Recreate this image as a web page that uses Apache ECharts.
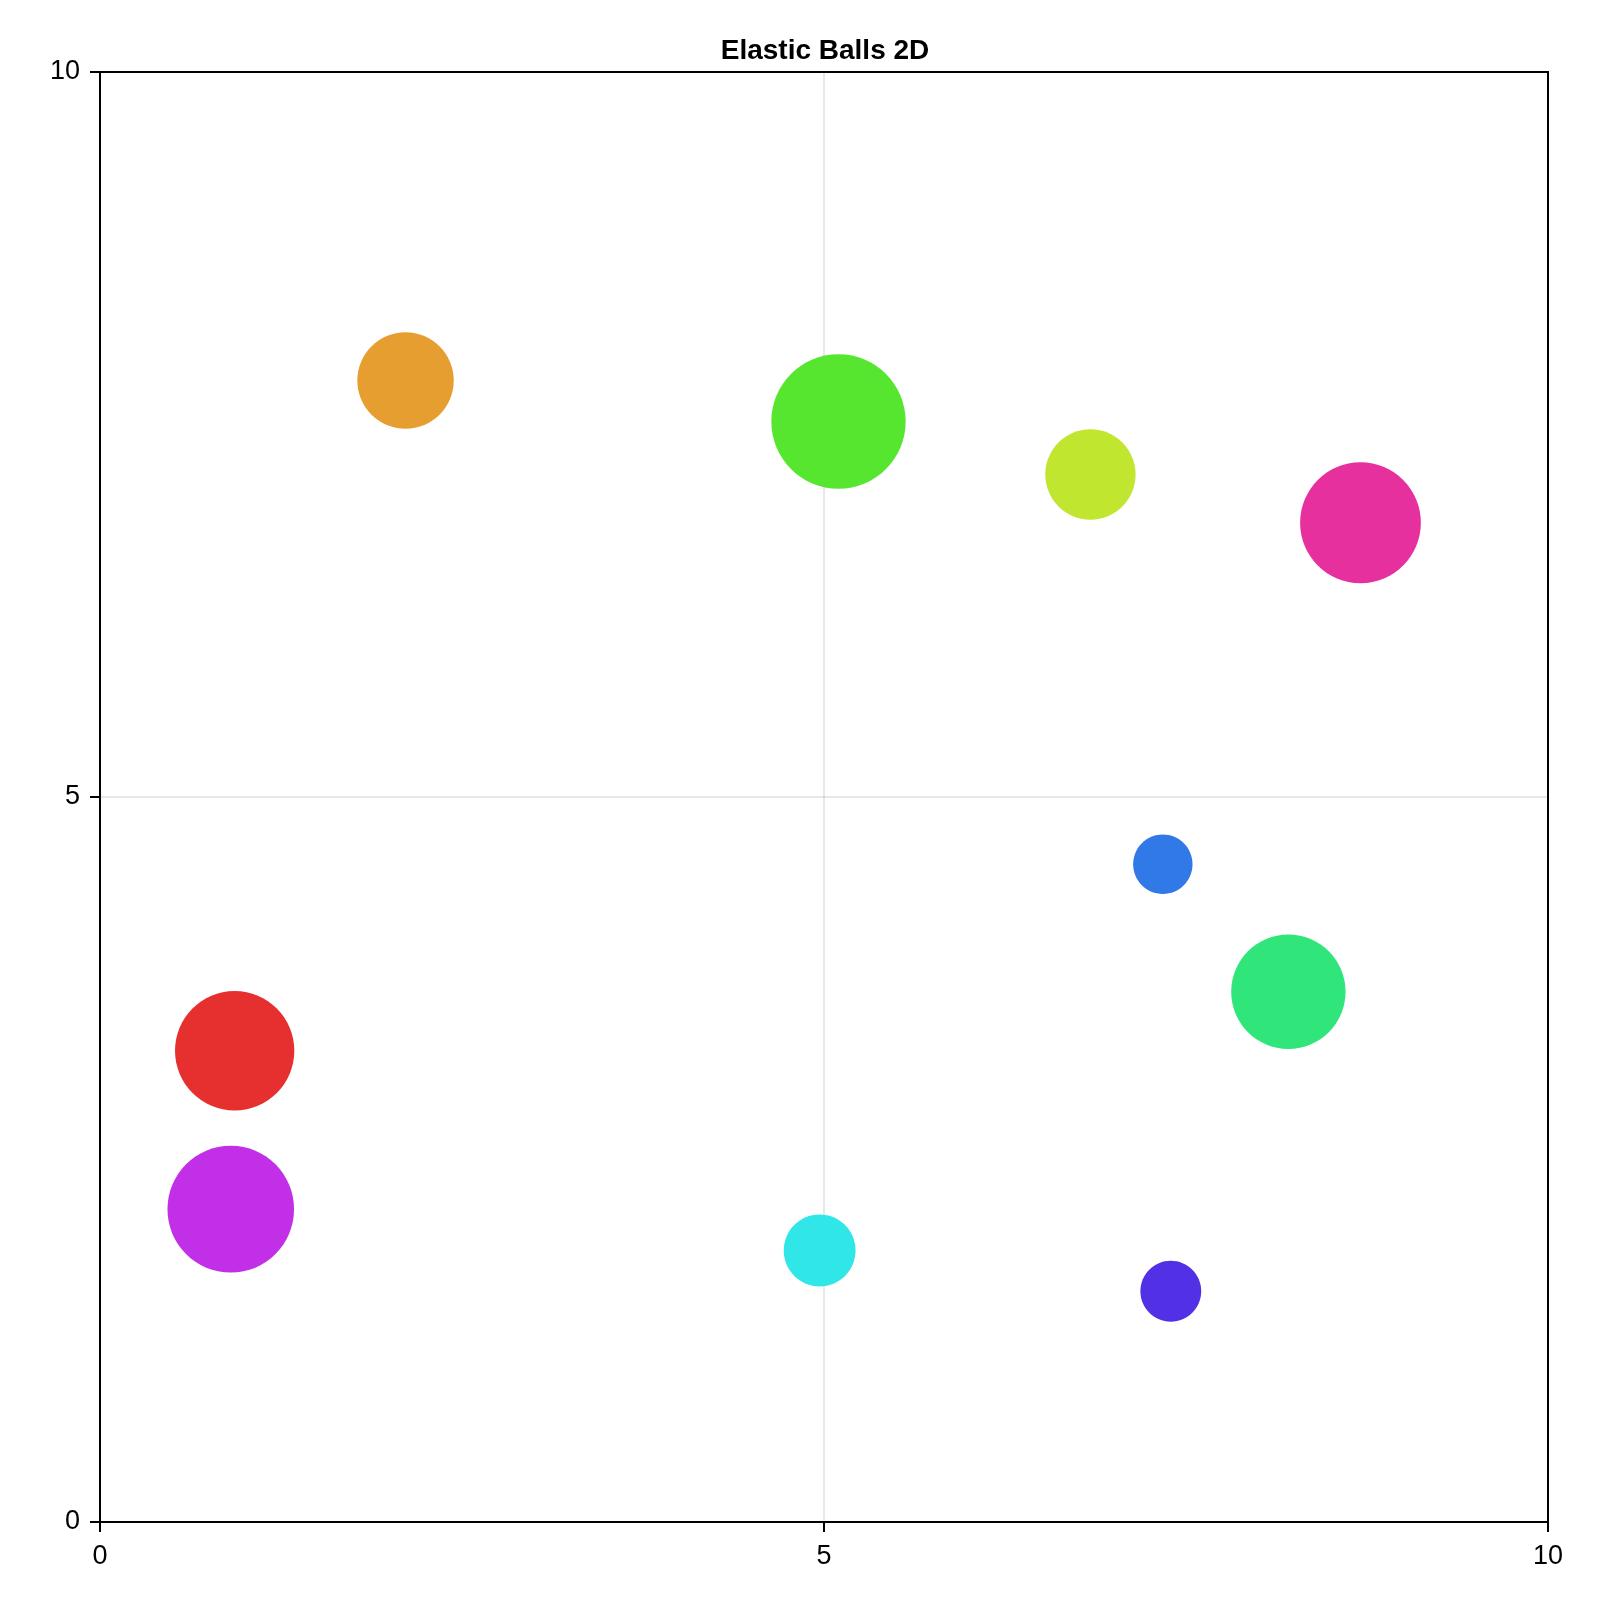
<!DOCTYPE html>
<html>
<head>
<meta charset="utf-8">
<script src="https://cdn.jsdelivr.net/npm/echarts@6/dist/echarts.min.js"></script>
<style>
html,body{margin:0;padding:0;background:#fff;}
#chart{width:1600px;height:1600px;}
</style>
</head>
<body>
<div id="chart"></div>
<script>
const ballX = [2.11, 5.10, 6.84, 8.705, 7.34, 8.207, 0.93, 0.903, 4.97, 7.395];
const ballY = [7.872, 7.59, 7.224, 6.891, 4.536, 3.657, 3.25, 2.157, 1.872, 1.591];
const ballR = [0.333, 0.464, 0.312, 0.417, 0.205, 0.395, 0.412, 0.437, 0.248, 0.21];
const ballColors = ['#E69E30', '#56E630', '#C1E630', '#E6309E', '#3079E6', '#30E67B', '#E63030', '#C130E6', '#30E6E6', '#5230E6'];
const xTicks = [0, 5, 10];
const yTicks = [0, 5, 10];
const titleText = 'Elastic Balls 2D';

const data = ballX.map((x, i) => [x, ballY[i], ballR[i], i]);
const font = '"Liberation Sans", Arial, Helvetica, sans-serif';

const chart = echarts.init(document.getElementById('chart'), null, {renderer: 'canvas'});
chart.setOption({
  animation: false,
  backgroundColor: '#fff',
  title: {
    text: titleText,
    left: 820, top: 32, textAlign: 'center',
    textStyle: {fontFamily: font, fontWeight: 'bold', fontSize: 28, color: '#000'}
  },
  grid: {
    left: 100, top: 72, right: 52, bottom: 78,
    show: true, borderColor: '#000', borderWidth: 2, backgroundColor: 'transparent'
  },
  xAxis: {
    type: 'value', min: 0, max: 10, interval: 5,
    axisLine: {show: true, onZero: false, lineStyle: {color: '#000', width: 2}},
    axisTick: {show: true, length: 10, lineStyle: {color: '#000', width: 2}},
    axisLabel: {margin: 21, fontFamily: font, fontSize: 27, color: '#000',
      formatter: v => xTicks.includes(v) ? String(v) : ''},
    splitLine: {show: true, lineStyle: {color: 'rgba(0,0,0,0.12)', width: 1.5}}
  },
  yAxis: {
    type: 'value', min: 0, max: 10, interval: 5,
    axisLine: {show: true, onZero: false, lineStyle: {color: '#000', width: 2}},
    axisTick: {show: true, length: 10, lineStyle: {color: '#000', width: 2}},
    axisLabel: {margin: 20, fontFamily: font, fontSize: 27, color: '#000',
      formatter: v => yTicks.includes(v) ? String(v) : ''},
    splitLine: {show: true, lineStyle: {color: 'rgba(0,0,0,0.12)', width: 1.5}}
  },
  series: [{
    type: 'custom',
    coordinateSystem: 'cartesian2d',
    data: data,
    clip: true,
    renderItem: function (params, api) {
      const c = api.coord([api.value(0), api.value(1)]);
      const s = api.size([api.value(2), api.value(2)]);
      return {
        type: 'ellipse',
        shape: {cx: c[0], cy: c[1], rx: s[0], ry: s[1]},
        style: {fill: ballColors[api.value(3)]}
      };
    }
  }]
});
</script>
</body>
</html>
